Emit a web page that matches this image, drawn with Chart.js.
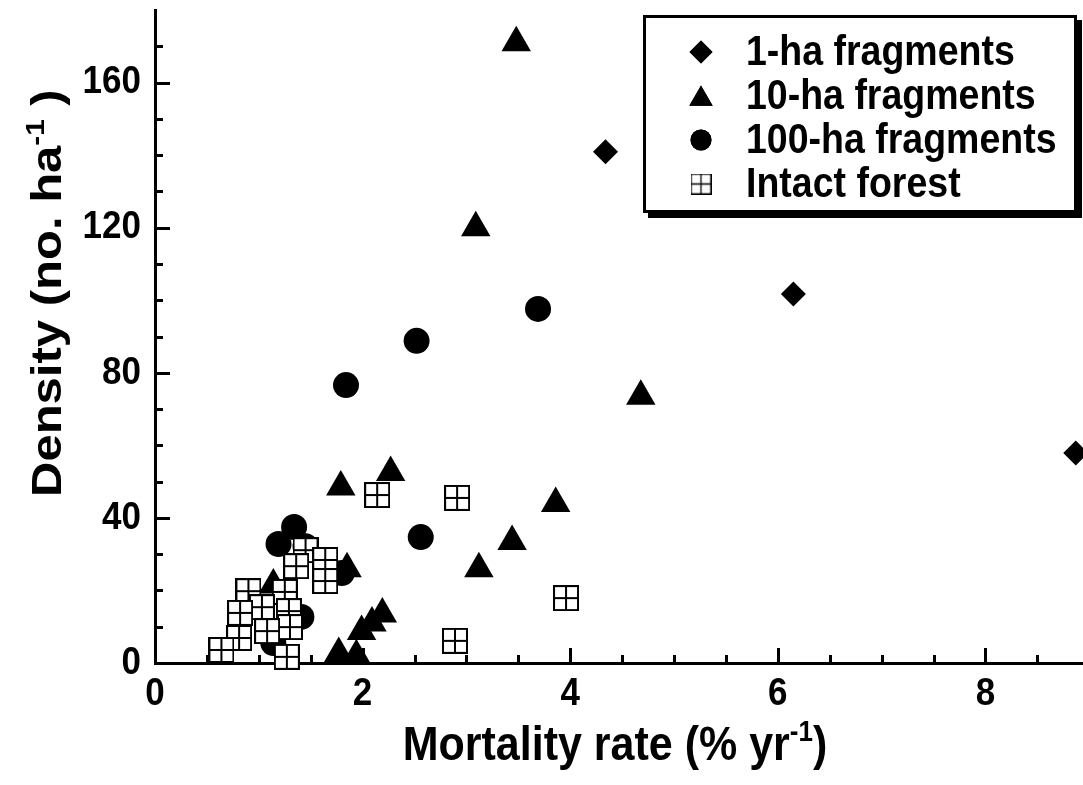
<!DOCTYPE html>
<html><head><meta charset="utf-8">
<script src="https://cdn.jsdelivr.net/npm/chart.js@4.4.0/dist/chart.umd.min.js"></script>
<style>html,body{margin:0;padding:0;background:#fff}canvas{display:block}</style>
</head><body>
<canvas id="c" width="1083" height="785"></canvas>
<script>
// ---------- data ----------
const seriesLabels = ['1-ha fragments', '10-ha fragments', '100-ha fragments', 'Intact forest'];

const ha1X = [4.34, 6.15, 8.87];
const ha1Y = [140.9, 101.7, 57.9];

const ha10X = [3.48, 3.09, 4.68, 3.86, 2.27, 1.79, 3.44, 3.12, 1.85, 2.19, 2.09, 1.99, 1.77, 1.94, 1.14];
const ha10Y = [171, 120, 73.5, 44, 52.5, 48.5, 33.5, 26, 26, 13.5, 11, 8.7, 2.6, 2, 21.5];

const ha100X = [3.69, 2.52, 1.84, 2.56, 1.34, 1.19, 1.45, 1.80, 1.41, 1.14];
const ha100Y = [97.6, 88.8, 76.6, 34.7, 37.5, 32.8, 32.2, 24.8, 12.7, 5.5];

const intactX = [2.14, 2.91, 3.96, 2.89, 1.45, 1.64, 1.36, 1.64, 0.90, 1.25, 1.03, 0.82, 1.29, 1.30, 1.08, 0.81, 0.64, 1.27];
const intactY = [46.3, 45.5, 17.9, 6.1, 31.1, 28.4, 26.7, 22.6, 19.8, 19.6, 15.4, 13.8, 14.3, 9.9, 8.8, 6.9, 3.6, 1.7];

const xTickLabels = [0, 2, 4, 6, 8];
const yTickLabels = [0, 40, 80, 120, 160];
const xMinorStep = 0.5, yMinorStep = 10;
const xMax = 8.94, yMax = 180;

const xTitleParts = ['Mortality rate (% yr', '-1', ')'];
const yTitleParts = ['Density (no. ha', '-1', ' )'];

// ---------- helpers ----------
const FONT = '"Liberation Sans", Arial, Helvetica, sans-serif';
const SY = 1.12; // vertical stretch of all lettering
const pts = (xs, ys) => xs.map((x, i) => ({x, y: ys[i]}));

function gridSquare(size, lw) {
  const c = document.createElement('canvas');
  c.width = size; c.height = size;
  const g = c.getContext('2d');
  g.fillStyle = '#fff';
  g.fillRect(0, 0, size, size);
  g.strokeStyle = '#000';
  g.lineWidth = lw;
  const h = lw / 2;
  g.strokeRect(h, h, size - lw, size - lw);
  g.beginPath();
  g.moveTo(size / 2, 0); g.lineTo(size / 2, size);
  g.moveTo(0, size / 2); g.lineTo(size, size / 2);
  g.stroke();
  return c;
}
const sqData = gridSquare(26, 2);
const sqLegend = gridSquare(21, 1.3);

function runsWidth(ctx, parts, size) {
  const big = 'bold ' + size + 'px ' + FONT, small = 'bold ' + Math.round(size * 0.6) + 'px ' + FONT;
  ctx.font = big; const w0 = ctx.measureText(parts[0]).width;
  ctx.font = small; const w1 = ctx.measureText(parts[1]).width;
  ctx.font = big; const w2 = ctx.measureText(parts[2]).width;
  return [w0, w1, w2];
}
function drawRuns(ctx, parts, size, sx) {
  const big = 'bold ' + size + 'px ' + FONT, small = 'bold ' + Math.round(size * 0.6) + 'px ' + FONT;
  const w = runsWidth(ctx, parts, size);
  ctx.textAlign = 'left';
  ctx.textBaseline = 'alphabetic';
  ctx.font = big; ctx.fillText(parts[0], sx, 0);
  ctx.font = small; ctx.fillText(parts[1], sx + w[0], -size * 0.4);
  ctx.font = big; ctx.fillText(parts[2], sx + w[0] + w[1], 0);
}
function stretchedText(ctx, text, x, y) {
  ctx.save(); ctx.translate(x, y); ctx.scale(1, SY); ctx.fillText(text, 0, 0); ctx.restore();
}

const decor = {
  id: 'decor',
  beforeDatasetsDraw(chart) {
    const ctx = chart.ctx, xs = chart.scales.x, ys = chart.scales.y, a = chart.chartArea;
    ctx.save();
    ctx.strokeStyle = '#000';
    ctx.lineWidth = 3;
    for (let v = yMinorStep; v < yMax; v += yMinorStep) {
      const py = Math.round(ys.getPixelForValue(v)) + 0.5;
      const len = (v % 40 === 0) ? 15 : 8;
      ctx.beginPath(); ctx.moveTo(a.left, py); ctx.lineTo(a.left + len, py); ctx.stroke();
    }
    for (let v = xMinorStep; v < xMax; v += xMinorStep) {
      const px = Math.round(xs.getPixelForValue(v)) + 0.5;
      const len = (Math.abs(v % 2) < 1e-9) ? 15 : 8;
      ctx.beginPath(); ctx.moveTo(px, a.bottom); ctx.lineTo(px, a.bottom - len); ctx.stroke();
    }
    ctx.fillStyle = '#000';
    ctx.font = 'bold 35px ' + FONT;
    ctx.textBaseline = 'middle';
    ctx.textAlign = 'right';
    ys.ticks.forEach(t => stretchedText(ctx, String(t.value), a.left - 14, ys.getPixelForValue(t.value)));
    ctx.textAlign = 'center';
    xs.ticks.forEach(t => stretchedText(ctx, String(t.value), xs.getPixelForValue(t.value), a.bottom + 31));
    ctx.restore();
  },
  afterDraw(chart) {
    const ctx = chart.ctx, a = chart.chartArea;
    ctx.save();
    ctx.fillStyle = '#000';
    const xsz = 43, xw = runsWidth(ctx, xTitleParts, xsz);
    ctx.save();
    ctx.translate((a.left + a.right) / 2 - 4, 760);
    ctx.scale(1, SY);
    drawRuns(ctx, xTitleParts, xsz, -(xw[0] + xw[1] + xw[2]) / 2);
    ctx.restore();
    ctx.save();
    ctx.translate(61, 497);
    ctx.rotate(-Math.PI / 2);
    ctx.scale(1.14, 1);
    drawRuns(ctx, yTitleParts, 43, 0);
    ctx.restore();

    const L = 643, T = 15, R = 1077, B = 213;
    ctx.fillStyle = '#000';
    ctx.fillRect(L + 5, T + 5, R - L, B - T);
    ctx.fillStyle = '#fff';
    ctx.fillRect(L, T, R - L, B - T);
    ctx.strokeStyle = '#000';
    ctx.lineWidth = 3;
    ctx.strokeRect(L + 1.5, T + 1.5, R - L - 3, B - T - 3);

    const rows = [52, 96, 140, 184];
    const mx = 701;
    ctx.fillStyle = '#000';
    Chart.helpers.drawPoint(ctx, {pointStyle: 'rectRot', radius: 11.5, borderWidth: 0}, mx, rows[0]);
    ctx.fill();
    Chart.helpers.drawPoint(ctx, {pointStyle: 'triangle', radius: 13.5, borderWidth: 0}, mx, rows[1] + 3);
    ctx.fill();
    Chart.helpers.drawPoint(ctx, {pointStyle: 'circle', radius: 10.5, borderWidth: 0}, mx, rows[2]);
    ctx.fill();
    ctx.drawImage(sqLegend, mx - 10.5, rows[3] - 10.5);

    ctx.font = 'bold 37.5px ' + FONT;
    ctx.textAlign = 'left';
    ctx.textBaseline = 'middle';
    ctx.fillStyle = '#000';
    seriesLabels.forEach((t, i) => stretchedText(ctx, t, 746, rows[i] + 1));
    ctx.restore();
  }
};

new Chart(document.getElementById('c'), {
  type: 'scatter',
  data: {
    datasets: [
      {label: seriesLabels[3], data: pts(intactX, intactY), pointStyle: sqData, pointRadius: 13, order: 0, clip: false},
      {label: seriesLabels[1], data: pts(ha10X, ha10Y), pointStyle: 'triangle', pointRadius: 17, backgroundColor: '#000', borderColor: '#000', borderWidth: 0, order: 1, clip: false},
      {label: seriesLabels[2], data: pts(ha100X, ha100Y), pointStyle: 'circle', pointRadius: 13, backgroundColor: '#000', borderColor: '#000', borderWidth: 0, order: 2, clip: false},
      {label: seriesLabels[0], data: pts(ha1X, ha1Y), pointStyle: 'rectRot', pointRadius: 12.5, backgroundColor: '#000', borderColor: '#000', borderWidth: 0, order: 3, clip: false}
    ]
  },
  options: {
    responsive: false,
    animation: false,
    devicePixelRatio: 1,
    layout: {autoPadding: false, padding: {top: 10, right: 0, left: 0, bottom: 0}},
    plugins: {legend: {display: false}, tooltip: {enabled: false}},
    events: [],
    scales: {
      x: {
        type: 'linear', min: 0, max: xMax,
        afterBuildTicks: s => { s.ticks = xTickLabels.map(v => ({value: v})); },
        afterFit: s => { s.height = 122; s.paddingLeft = 0; s.paddingRight = 0; },
        ticks: {display: false},
        grid: {display: false, drawTicks: false},
        border: {display: true, width: 3, color: '#000'}
      },
      y: {
        type: 'linear', min: 0, max: yMax,
        afterBuildTicks: s => { s.ticks = yTickLabels.map(v => ({value: v})); },
        afterFit: s => { s.width = 155; s.paddingTop = 0; s.paddingBottom = 0; },
        ticks: {display: false},
        grid: {display: false, drawTicks: false},
        border: {display: true, width: 3, color: '#000'}
      }
    }
  },
  plugins: [decor]
});
</script>
</body></html>
